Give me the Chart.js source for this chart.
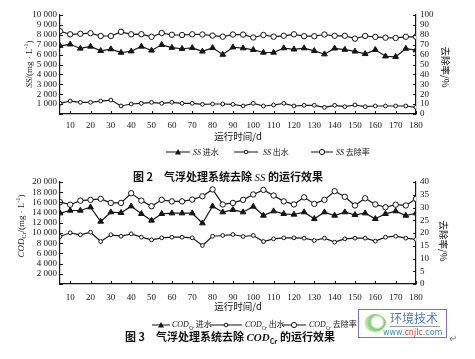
<!DOCTYPE html>
<html>
<head>
<meta charset="utf-8">
<script src="https://cdn.jsdelivr.net/npm/chart.js@4/dist/chart.umd.min.js"></script>
<style>
  html,body{margin:0;padding:0;background:#fff;}
  body{width:475px;height:359px;position:relative;overflow:hidden;color:#111;
       font-family:"Liberation Serif","Noto Sans CJK SC",serif;}
  canvas{position:absolute;left:0;}
  .t{position:absolute;white-space:nowrap;line-height:1;}
  .rot{transform:translate(-50%,-50%) rotate(-90deg);}
  .rotr{transform:translate(-50%,-50%) rotate(90deg);}
  .cjk{font-family:"Noto Sans CJK SC",sans-serif;}
  .cap{font-family:"Noto Sans CJK SC",sans-serif;font-weight:bold;font-size:11px;}
  .lg{position:absolute;white-space:nowrap;font-size:8px;line-height:1;transform:translateY(-50%);}
  i{font-family:"Liberation Serif",serif;}
</style>
</head>
<body>
<canvas id="c1" width="475" height="132" style="top:0"></canvas>
<canvas id="c2" width="475" height="145" style="top:160px"></canvas>

<!-- chart 1 texts -->
<div class="t rot" style="left:28px;top:64px;font-size:9px;"><i>SS</i>/(mg · L<sup style="font-size:6px">-1</sup>)</div>
<div class="t rotr cjk" style="left:445px;top:67px;font-size:9.5px;" id="r1"></div>
<div class="t cjk" style="left:238px;top:137px;transform:translate(-50%,-50%);font-size:9.5px;" id="x1"></div>
<div id="leg1"></div>
<div class="t cap" style="left:133px;top:171px;">图 2</div>
<div class="t cap" style="left:164px;top:171px;">气浮处理系统去除 <i style="font-weight:normal">SS</i> 的运行效果</div>

<!-- chart 2 texts -->
<div class="t rot" style="left:21px;top:226px;font-size:9px;"><i>COD</i><sub style="font-size:6px">Cr</sub>/(mg · L<sup style="font-size:6px">-1</sup>)</div>
<div class="t rotr cjk" style="left:443px;top:241px;font-size:9.5px;" id="r2"></div>
<div class="t cjk" style="left:238px;top:307px;transform:translate(-50%,-50%);font-size:9.5px;" id="x2"></div>
<div id="leg2"></div>
<div class="t cap" style="left:125px;top:331px;">图 3</div>
<div class="t cap" style="left:156px;top:331px;">气浮处理系统去除 <i>COD</i><sub style="font-size:7px">Cr</sub> 的运行效果</div>

<!-- watermark -->
<div style="position:absolute;left:358px;top:309px;width:87px;height:27px;border:1px solid #7d72c8;background:rgba(255,255,255,0.85);">
  <div style="position:absolute;left:5px;top:4px;width:22px;height:18px;border-radius:50%;background:radial-gradient(circle at 60% 45%,#fff 0 30%,#7ccf6a 45%,#cfeec4 75%,rgba(255,255,255,0) 80%);"></div>
  <div class="t cjk" style="left:31px;top:2px;font-size:12px;color:#4a7fb8;">环境技术</div>
  <div style="position:absolute;left:31px;top:16px;width:50px;height:1px;background:#999;"></div>
  <div class="t" style="left:24px;top:19px;font-size:8px;font-family:'DejaVu Sans',sans-serif;color:#3a8fb0;">www.<span style="color:#cf3b3b">cnjlc</span>.com</div>
</div>
<div class="t" style="left:449px;top:334px;font-size:10px;color:#777;">↵</div>

<script>
// ---------- data ----------
const days = [5,10,15,20,25,30,35,40,45,50,55,60,65,70,75,80,85,90,95,100,105,110,115,120,125,130,135,140,145,150,155,160,165,170,175,180];
const xTickValues = [10,20,30,40,50,60,70,80,90,100,110,120,130,140,150,160,170,180];

const ssIn   = [6880,7040,6620,6820,6380,6550,6200,6340,6820,6420,6990,6700,6590,6680,6320,6680,6000,6740,6650,6480,6210,6210,6650,6530,6650,6380,6040,6630,6500,6320,6070,6480,5830,5780,6610,6450];
const ssOut  = [1080,1310,1180,1180,1310,1410,810,1010,1080,1180,1080,1180,1080,1080,980,1010,1010,980,810,1080,810,910,1080,810,880,880,670,880,740,910,740,810,810,810,810,670];
const ssRate = [83.6,80.5,81,81.6,78.8,78.8,83,80.5,80.6,78,81.8,80,79.8,80.5,80.3,79.2,78.1,80.3,80.2,77.3,79.8,78.1,79,80.5,78.6,78.6,80.3,79,79,76.1,78.8,77.9,77.1,76.8,78,78];

const codIn   = [13880,14410,14410,15060,12250,14080,13960,15250,13760,12450,13760,13880,13880,13880,11920,15250,14080,14550,14080,15190,13430,14280,13760,13630,14080,12780,14080,13430,14080,13560,13880,12780,13760,14280,13430,13880];
const codOut  = [9310,10040,9650,10160,8330,9650,9370,9840,9180,8660,9050,9180,9180,9050,7550,9370,9510,9700,9310,9510,8330,8860,9050,9050,8990,8530,8990,8200,8860,8990,8990,8400,9180,9370,8990,8730];
const codRate = [32.1,31.1,32.7,33.0,33.4,31.8,31.8,35.6,32.7,30.5,33.0,32.4,32.4,33.1,34.4,37.1,31.2,31.8,33.0,35.1,36.9,34.7,32.4,31.2,34.0,31.4,33.0,36.4,34.2,30.8,33.6,31.2,30.1,31.1,30.8,33.4];

const xTitle = '运行时间/d';
const rateTitle = '去除率/%';
const legendSuffix = ['进水','出水','去除率'];
const legendPrefix1 = 'SS';
const legendPrefix2 = 'COD';

// ---------- helpers ----------
const INK = '#151515';
const fmt = v => v === 0 ? '' : String(v).replace(/\B(?=(\d{3})+(?!\d))/g, ' ');
const tickFont = {family:'"Liberation Serif", serif', size:9};

const inwardTicks = {
  id:'inwardTicks',
  afterDraw(chart){
    const {ctx, chartArea:a, scales} = chart;
    ctx.save(); ctx.strokeStyle = INK; ctx.lineWidth = 1; ctx.beginPath();
    scales.y.ticks.forEach(t=>{const p=Math.round(scales.y.getPixelForValue(t.value))+0.5; ctx.moveTo(a.left,p); ctx.lineTo(a.left+3,p);});
    scales.y1.ticks.forEach(t=>{const p=Math.round(scales.y1.getPixelForValue(t.value))+0.5; ctx.moveTo(a.right-3,p); ctx.lineTo(a.right,p);});
    scales.x.ticks.forEach(t=>{const p=Math.round(scales.x.getPixelForValue(t.value))+0.5; ctx.moveTo(p,a.bottom); ctx.lineTo(p,a.bottom-3);});
    ctx.stroke(); ctx.restore();
  }
};

function ds(label, data, axis, style){
  const base = {label, data: days.map((d,i)=>({x:d, y:data[i]})), yAxisID: axis,
    borderColor: INK, borderWidth: 1.2, pointBorderColor: INK, pointBorderWidth: 1,
    tension: 0, fill: false};
  if (style === 'tri') Object.assign(base, {pointStyle:'triangle', pointRadius:3.3, pointBackgroundColor:INK});
  if (style === 'small') Object.assign(base, {pointStyle:'circle', pointRadius:1.9, pointBackgroundColor:'#fff'});
  if (style === 'big') Object.assign(base, {pointStyle:'circle', pointRadius:2.7, pointBackgroundColor:'#fff'});
  return base;
}

function makeChart(id, padTop, xHeight, xPad, yMax, yStep, rMax, rStep, sets){
  return new Chart(document.getElementById(id), {
    type:'line',
    data:{datasets:sets},
    options:{
      responsive:false, animation:false, devicePixelRatio:1,
      layout:{padding:{top:padTop, left:0, right:0, bottom:0}},
      plugins:{legend:{display:false}, tooltip:{enabled:false}},
      scales:{
        x:{type:'linear', min:5, max:180,
           afterBuildTicks: s => { s.ticks = xTickValues.map(v=>({value:v})); },
           afterFit: s => { s.height = xHeight; },
           grid:{display:false, drawTicks:false},
           border:{display:true, color:INK, width:1.2},
           ticks:{font:tickFont, color:INK, padding:xPad, maxRotation:0, autoSkip:false, callback:v=>String(v)}},
        y:{position:'left', min:0, max:yMax,
           afterFit: s => { s.width = 60; },
           grid:{display:false, drawTicks:false},
           border:{display:true, color:INK, width:1.2},
           ticks:{font:tickFont, color:INK, stepSize:yStep, padding:3, autoSkip:false, callback:fmt}},
        y1:{position:'right', min:0, max:rMax,
           afterFit: s => { s.width = 59; },
           grid:{display:false, drawTicks:false},
           border:{display:true, color:INK, width:1.2},
           ticks:{font:tickFont, color:INK, stepSize:rStep, padding:4, autoSkip:false, callback:v=>String(v)}}
      }
    },
    plugins:[inwardTicks]
  });
}

makeChart('c1', 15, 18, 6, 10000, 1000, 100, 10, [
  ds(legendPrefix1+' '+legendSuffix[0], ssIn, 'y', 'tri'),
  ds(legendPrefix1+' '+legendSuffix[1], ssOut, 'y', 'small'),
  ds(legendPrefix1+' '+legendSuffix[2], ssRate, 'y1', 'big')
]);
makeChart('c2', 22, 21, 8, 20000, 2000, 40, 5, [
  ds(legendPrefix2+' '+legendSuffix[0], codIn, 'y', 'tri'),
  ds(legendPrefix2+' '+legendSuffix[1], codOut, 'y', 'small'),
  ds(legendPrefix2+' '+legendSuffix[2], codRate, 'y1', 'big')
]);

// ---------- titles & legends ----------
document.getElementById('x1').textContent = xTitle;
document.getElementById('x2').textContent = xTitle;
document.getElementById('r1').textContent = rateTitle;
document.getElementById('r2').textContent = rateTitle;

function marker(style, w){
  const m = w/2;
  let mk = '';
  if (style==='tri') mk = `<polygon points="${m-3},8 ${m+3},8 ${m},2.5" fill="${INK}"/>`;
  if (style==='small') mk = `<circle cx="${m}" cy="5.5" r="1.8" fill="#fff" stroke="${INK}" stroke-width="1"/>`;
  if (style==='big') mk = `<circle cx="${m}" cy="5.5" r="2.6" fill="#fff" stroke="${INK}" stroke-width="1"/>`;
  return `<svg width="${w}" height="11" style="vertical-align:middle"><line x1="0" y1="5.5" x2="${w}" y2="5.5" stroke="${INK}" stroke-width="1.2"/>${mk}</svg>`;
}
function legend(el, y, items, prefixHtml){
  const styles = ['tri','small','big'];
  document.getElementById(el).innerHTML = items.map((it,i)=>
    `<div class="lg" style="left:${it.lx}px;top:${y}px;">${marker(styles[i], it.lw)}</div>` +
    `<div class="lg cjk" style="left:${it.tx}px;top:${y}px;">${prefixHtml} ${legendSuffix[i]}</div>`).join('');
}
legend('leg1', 152, [{lx:166,lw:24,tx:193},{lx:234,lw:24,tx:263},{lx:311,lw:22,tx:336}],
  '<i>'+legendPrefix1+'</i>');
legend('leg2', 325, [{lx:152,lw:18,tx:172},{lx:210,lw:32,tx:245},{lx:282,lw:24,tx:309}],
  '<i>'+legendPrefix2+'</i><sub style="font-size:5px">Cr</sub>');
</script>
</body>
</html>
